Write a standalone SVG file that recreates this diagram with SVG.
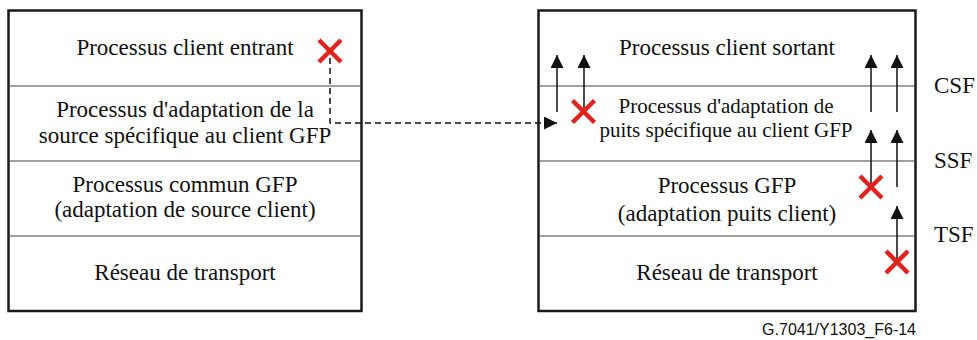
<svg xmlns="http://www.w3.org/2000/svg" width="977" height="340" viewBox="0 0 977 340">
<style>
.box{fill:#fff;stroke:#1a1a1a;stroke-width:2.5}
.div{stroke:#444;stroke-width:1.2;fill:none}
text{font-family:'Liberation Serif','DejaVu Serif',serif}
.t{font-size:23px;fill:#111;text-anchor:middle}
.t2{font-size:21px;fill:#111;text-anchor:middle}
.lab{font-size:23px;fill:#111}
.fn{font-size:16px;fill:#111;text-anchor:end}
.ar{stroke:#111;stroke-width:1.5;fill:none;marker-end:url(#ah)}
.dash{stroke:#111;stroke-width:1.5;fill:none;stroke-dasharray:6 4;marker-end:url(#ah)}
.x{stroke:#e0231c;stroke-width:4.5;fill:none}
</style>
<defs>
<marker id="ah" viewBox="0 0 13 13" refX="13" refY="6.5" markerWidth="13" markerHeight="13" markerUnits="userSpaceOnUse" orient="auto">
<path d="M0,0 L13,6.5 L0,13 Z" fill="#111"/>
</marker>
<path id="xm" d="M-11,-11 L11,11 M11,-11 L-11,11"/>
</defs>
<g id="left-stack">
<rect class="box" x="8.5" y="10.5" width="353" height="300.5"/>
<g id="left-client-entrant">
<text class="t" x="185" y="55" font-family="Liberation Serif, serif">Processus client entrant</text>
</g>
<line class="div" x1="8.5" y1="86" x2="361.5" y2="86"/>
<g id="left-adaptation-source">
<text class="t" x="185" y="117">Processus d'adaptation de la</text>
<text class="t" x="185" y="143">source spécifique au client GFP</text>
</g>
<line class="div" x1="8.5" y1="161" x2="361.5" y2="161"/>
<g id="left-commun-gfp">
<text class="t" x="185" y="192">Processus commun GFP</text>
<text class="t" x="185" y="217">(adaptation de source client)</text>
</g>
<line class="div" x1="8.5" y1="236" x2="361.5" y2="236"/>
<g id="left-reseau">
<text class="t" x="185" y="280">Réseau de transport</text>
</g>
</g>
<g id="right-stack">
<rect class="box" x="538.5" y="10.5" width="377" height="300.5"/>
<g id="right-client-sortant">
<text class="t" x="727" y="55">Processus client sortant</text>
</g>
<line class="div" x1="538.5" y1="86" x2="915.5" y2="86"/>
<g id="right-adaptation-puits">
<text class="t2" x="726" y="113">Processus d'adaptation de</text>
<text class="t2" x="726" y="137">puits spécifique au client GFP</text>
</g>
<line class="div" x1="538.5" y1="161" x2="915.5" y2="161"/>
<g id="right-processus-gfp">
<text class="t" x="727" y="193">Processus GFP</text>
<text class="t" x="727" y="221">(adaptation puits client)</text>
</g>
<line class="div" x1="538.5" y1="236" x2="915.5" y2="236"/>
<g id="right-reseau">
<text class="t" x="727" y="280">Réseau de transport</text>
</g>
</g>
<g id="signal-labels">
<text class="lab" x="934" y="93">CSF</text>
<text class="lab" x="934" y="168">SSF</text>
<text class="lab" x="934" y="242">TSF</text>
</g>
<g id="connectors">
<path class="dash" d="M330,58 V123 H557"/>
<line class="ar" x1="557" y1="112" x2="557" y2="55"/>
<line class="ar" x1="584" y1="112" x2="584" y2="55"/>
<line class="ar" x1="871" y1="112" x2="871" y2="55"/>
<line class="ar" x1="897" y1="112" x2="897" y2="55"/>
<line class="ar" x1="871" y1="187" x2="871" y2="130"/>
<line class="ar" x1="897" y1="187" x2="897" y2="130"/>
<line class="ar" x1="897" y1="262" x2="897" y2="206"/>
</g>
<g id="failures">
<use href="#xm" class="x" x="330" y="51"/>
<use href="#xm" class="x" x="583.5" y="111.5"/>
<use href="#xm" class="x" x="871" y="187"/>
<use href="#xm" class="x" x="897" y="262"/>
</g>
<g id="figure-id">
<text class="fn" x="916" y="335" style="font-family:'Liberation Sans',Arial,sans-serif">G.7041/Y1303_F6-14</text>
</g>
</svg>
